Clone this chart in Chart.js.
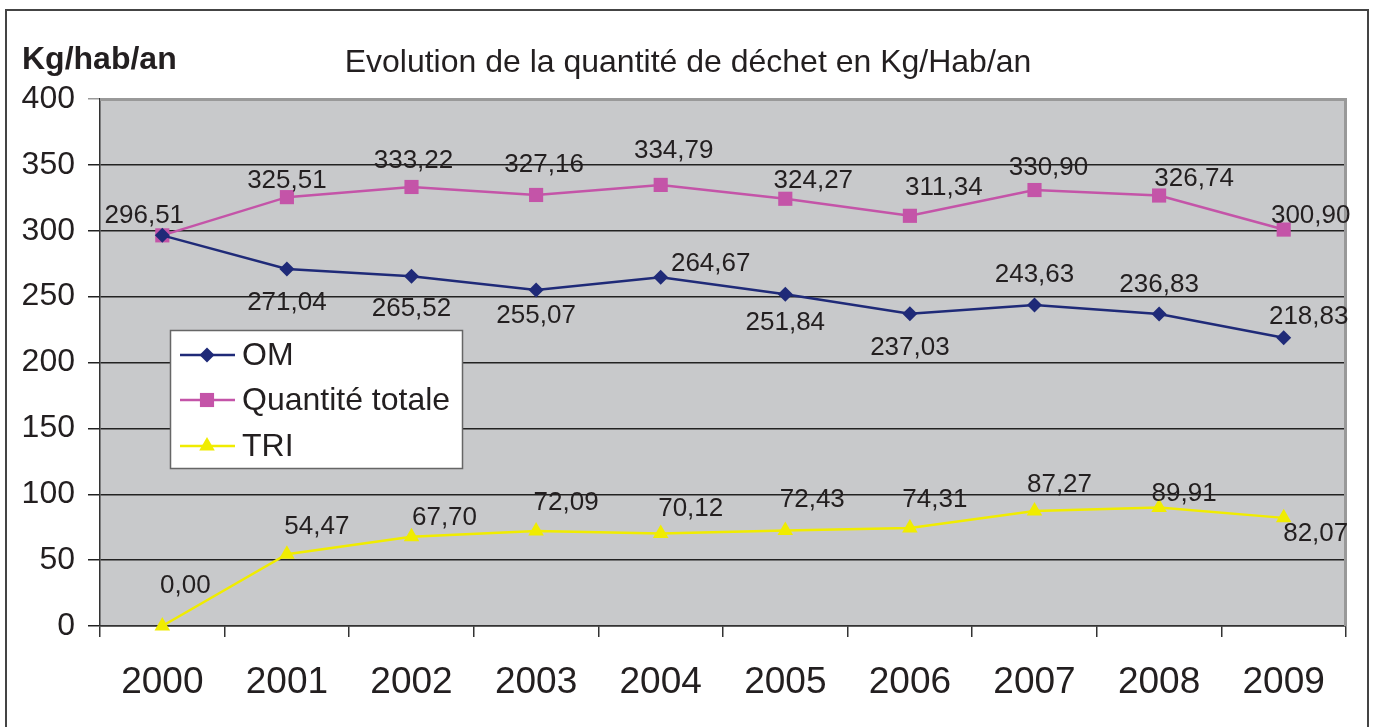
<!DOCTYPE html>
<html><head><meta charset="utf-8">
<script src="https://cdn.jsdelivr.net/npm/chart.js@4/dist/chart.umd.min.js"></script>
<style>html,body{margin:0;padding:0;background:#fff}#wrap{width:1374px;height:727px}</style>
</head><body><div id="wrap"><canvas id="c" width="1374" height="727"></canvas></div>
<script>
const years = ['2000','2001','2002','2003','2004','2005','2006','2007','2008','2009'];
const omValues = [296.51, 271.04, 265.52, 255.07, 264.67, 251.84, 237.03, 243.63, 236.83, 218.83];
const totalValues = [296.51, 325.51, 333.22, 327.16, 334.79, 324.27, 311.34, 330.90, 326.74, 300.90];
const triValues = [0.00, 54.47, 67.70, 72.09, 70.12, 72.43, 74.31, 87.27, 89.91, 82.07];
const yTicks = [0, 50, 100, 150, 200, 250, 300, 350, 400];
const chartTitle = 'Evolution de la quantité de déchet en Kg/Hab/an';
const yUnit = 'Kg/hab/an';

// label placement (pixel offsets from each point), kept separate from data
const omLabelOffsets = [null,[0,34],[0,33],[0,26],[50,-13],[0,29],[0,34],[0,-30],[0,-29],[25,-21]];
const totalLabelOffsets = [[-18,-20],[0,-16],[2,-26],[8,-30],[13,-34],[28,-18],[34,-28],[14,-22],[35,-17],[27,-14]];
const triLabelOffsets = [[23,-40],[30,-27],[33,-19],[30,-28],[30,-25],[27,-31],[25,-28],[25,-26],[25,-14],[32,16]];

const FONT = '"Liberation Sans", Arial, sans-serif';
const TXT = '#231f20';
const fmt = v => v.toFixed(2).replace('.', ',');

const framePlugin = {
  id: 'frame',
  beforeDraw(chart) {
    const ctx = chart.ctx, a = chart.chartArea;
    ctx.save();
    ctx.fillStyle = '#fff';
    ctx.fillRect(0, 0, chart.width, chart.height);
    ctx.strokeStyle = '#444';
    ctx.lineWidth = 2;
    ctx.strokeRect(6, 10, 1362, 740);
    ctx.fillStyle = '#c8c9cb';
    ctx.fillRect(a.left, a.top, a.right - a.left, a.bottom - a.top);
    ctx.restore();
  },
  afterDatasetsDraw(chart) {
    const ctx = chart.ctx, a = chart.chartArea;
    ctx.save();
    ctx.strokeStyle = '#999';
    ctx.lineWidth = 3;
    ctx.beginPath();
    ctx.moveTo(a.left, a.top + 0.5);
    ctx.lineTo(a.right - 0.5, a.top + 0.5);
    ctx.lineTo(a.right - 0.5, a.bottom);
    ctx.stroke();
    ctx.fillStyle = TXT;
    ctx.textBaseline = 'middle';
    ctx.textAlign = 'center';
    ctx.font = '32px ' + FONT;
    ctx.fillText(chartTitle, 688, 63);
    ctx.textAlign = 'left';
    ctx.font = 'bold 32px ' + FONT;
    ctx.fillText(yUnit, 22, 60);
    const offs = [omLabelOffsets, totalLabelOffsets, triLabelOffsets];
    ctx.font = '26px ' + FONT;
    ctx.textAlign = 'center';
    chart.data.datasets.forEach((ds, di) => {
      const meta = chart.getDatasetMeta(di);
      meta.data.forEach((pt, i) => {
        const o = offs[di][i];
        if (!o) return;
        ctx.fillText(fmt(ds.data[i]), pt.x + o[0], pt.y + o[1]);
      });
    });
    const lx = 170, ly = 330, lw = 292, lh = 138;
    ctx.fillStyle = '#fff';
    ctx.fillRect(lx, ly, lw, lh);
    ctx.strokeStyle = '#666';
    ctx.lineWidth = 1.5;
    ctx.strokeRect(lx + 0.5, ly + 0.5, lw, lh);
    const rows = [355, 400, 446];
    ctx.font = '32px ' + FONT;
    ctx.textAlign = 'left';
    chart.data.datasets.forEach((ds, di) => {
      const y = rows[di];
      ctx.strokeStyle = ds.borderColor;
      ctx.lineWidth = 2.5;
      ctx.beginPath();
      ctx.moveTo(180, y); ctx.lineTo(235, y); ctx.stroke();
      ctx.fillStyle = ds.pointBackgroundColor;
      Chart.helpers.drawPoint(ctx, {pointStyle: ds.pointStyle, radius: ds.pointRadius, borderWidth: 0, rotation: 0}, 207, y);
      ctx.fillStyle = TXT;
      ctx.fillText(ds.label, 242, y + 1);
    });
    ctx.restore();
  }
};

new Chart(document.getElementById('c'), {
  type: 'line',
  data: {
    labels: years,
    datasets: [
      {label: 'OM', data: omValues, borderColor: '#1f2a78', backgroundColor: '#1f2a78', pointBackgroundColor: '#1f2a78', pointBorderColor: '#1f2a78', pointStyle: 'rectRot', pointRadius: 7.5, borderWidth: 2.5, pointBorderWidth: 0, tension: 0},
      {label: 'Quantité totale', data: totalValues, borderColor: '#c454a8', backgroundColor: '#c454a8', pointBackgroundColor: '#c454a8', pointBorderColor: '#c454a8', pointStyle: 'rect', pointRadius: 10, borderWidth: 2.5, pointBorderWidth: 0, tension: 0},
      {label: 'TRI', data: triValues, borderColor: '#f0ec00', backgroundColor: '#f0ec00', pointBackgroundColor: '#f0ec00', pointBorderColor: '#f0ec00', pointStyle: 'triangle', pointRadius: 9, borderWidth: 2.5, pointBorderWidth: 0, tension: 0}
    ]
  },
  options: {
    responsive: false,
    animation: false,
    clip: false,
    layout: {padding: {top: 99, right: 28, left: 0, bottom: 0}},
    plugins: {legend: {display: false}, title: {display: false}, tooltip: {enabled: false}},
    scales: {
      x: {
        offset: true,
        grid: {offset: true, drawOnChartArea: false, drawTicks: true, tickLength: 11, color: '#333', lineWidth: 1.5},
        border: {color: '#333', width: 1.5},
        ticks: {font: {family: FONT, size: 37}, color: TXT, padding: 24, maxRotation: 0},
        afterFit(s) { s.height = 101; }
      },
      y: {
        min: 0, max: 400,
        afterBuildTicks(s) { s.ticks = yTicks.map(v => ({value: v})); },
        grid: {drawTicks: true, tickLength: 12, color: ctx => ctx.tick && ctx.tick.value === 400 ? '#999' : '#222', lineWidth: 1.5},
        border: {color: '#333', width: 1.5},
        ticks: {font: {family: FONT, size: 32}, color: TXT, padding: 13},
        afterFit(s) { s.width = 100; }
      }
    }
  },
  plugins: [framePlugin]
});
</script></body></html>
